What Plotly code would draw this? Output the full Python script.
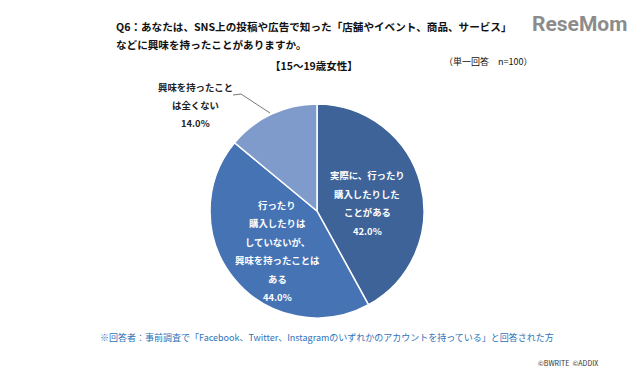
import plotly.graph_objects as go

# ---- data ----
categories = [
    "実際に、行ったり購入したりしたことがある",
    "行ったり購入したりはしていないが、興味を持ったことはある",
    "興味を持ったことは全くない",
]
values = [42.0, 44.0, 14.0]
label_lines = [
    ["実際に、行ったり", "購入したりした", "ことがある"],
    ["行ったり", "購入したりは", "していないが、", "興味を持ったことは", "ある"],
    ["興味を持ったこと", "は全くない"],
]
colors = ["#3E6399", "#4673B4", "#7F9BCB"]

title_lines = [
    "Q6：あなたは、SNS上の投稿や広告で知った「店舗やイベント、商品、サービス」",
    "などに興味を持ったことがありますか。",
]
subtitle = "【15～19歳女性】"
sample_note = "（単一回答　n=100）"
footnote = "※回答者：事前調査で「Facebook、Twitter、Instagramのいずれかのアカウントを持っている」と回答された方"
credit = "©BWRITE  ©ADDIX"

W, H = 640, 376
FONT = "Noto Sans CJK JP"


def px(x):
    return x / W


def py(y):
    return 1 - y / H


cx, cy, r = 317, 211, 107

fig = go.Figure(
    go.Pie(
        labels=categories,
        values=values,
        sort=False,
        direction="clockwise",
        rotation=0,
        marker=dict(colors=colors, line=dict(color="white", width=1.5)),
        textinfo="none",
        hoverinfo="label+percent",
        showlegend=False,
        domain=dict(x=[px(cx - r), px(cx + r)], y=[py(cy + r), py(cy - r)]),
    )
)

ann = []
# title
for i, t in enumerate(title_lines):
    ann.append(dict(x=px(114), y=py(27 + 18 * i), text="<b>" + t + "</b>", xanchor="left",
                    yanchor="middle", font=dict(size=10.6, color="#111", family=FONT)))
ann.append(dict(x=px(314), y=py(66), text="<b>" + subtitle + "</b>", xanchor="center",
                yanchor="middle", font=dict(size=10.5, color="#111", family=FONT)))
ann.append(dict(x=px(488), y=py(62), text=sample_note, xanchor="center",
                yanchor="middle", font=dict(size=9, color="#111", family=FONT)))
# logo
ann.append(dict(x=px(579), y=py(24), text="<b>ReseMom</b>", xanchor="center",
                yanchor="middle", font=dict(size=21, color="#8C8C8C", family="Roboto")))

# slice labels (one annotation per line for the wide line spacing)
label_pos = [(367, 175, 18.7, "white"), (277, 205, 18.4, "white"), (195, 87, 18, "#222")]
for k, (lx, ly, step, col) in enumerate(label_pos):
    lines = label_lines[k] + [f"{values[k]:.1f}%"]
    for j, t in enumerate(lines):
        ann.append(dict(x=px(lx), y=py(ly + step * j), text="<b>" + t + "</b>", xanchor="center",
                        yanchor="middle", font=dict(size=9.4, color=col, family=FONT)))

ann.append(dict(x=px(98), y=py(337), text=footnote, xanchor="left", yanchor="middle",
                font=dict(size=9, color="#2E72B8", family=FONT)))
ann.append(dict(x=px(600), y=py(363), text=credit, xanchor="right", yanchor="middle",
                font=dict(size=7, color="#333", family=FONT)))

for a in ann:
    a.update(xref="paper", yref="paper", showarrow=False)

shapes = [dict(type="path", xref="paper", yref="paper",
               path=f"M {px(233)} {py(95)} L {px(241)} {py(94)} L {px(270)} {py(113)}",
               line=dict(color="#555", width=0.8))]

fig.update_layout(
    width=W, height=H,
    margin=dict(l=0, r=0, t=0, b=0),
    paper_bgcolor="white", plot_bgcolor="white",
    annotations=ann, shapes=shapes,
    font=dict(family=FONT),
)

fig.write_html("out.html", config={"displayModeBar": False},
               post_script="document.body.style.margin='0';document.body.style.overflow='hidden';")
